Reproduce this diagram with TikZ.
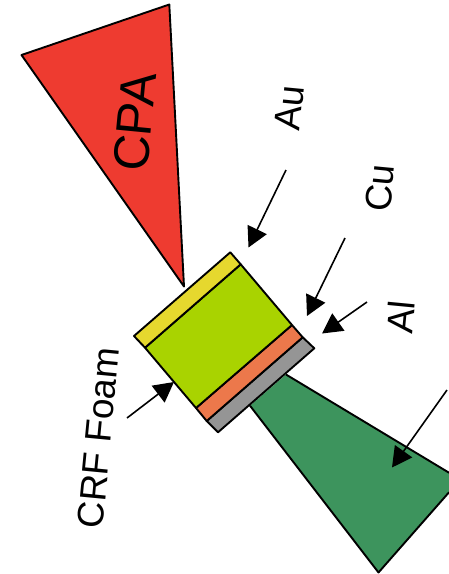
\documentclass[tikz,border=0pt]{standalone}
\usepackage{fontspec}
\setmainfont{Liberation Sans}
\usetikzlibrary{arrows.meta}
\definecolor{cpared}{HTML}{EE3B30}
\definecolor{beamgreen}{HTML}{3D945D}
\definecolor{auyellow}{HTML}{E6D82E}
\definecolor{foamgreen}{HTML}{A9D300}
\definecolor{cuorange}{HTML}{EC784B}
\definecolor{algray}{HTML}{959595}
\tikzset{
  px/.style={x=1pt,y=-1pt},
  region/.style={draw=black,line width=1.9pt,line join=round},
  callout/.style={draw=black,line width=1.6pt,-{Triangle[length=20pt,width=21pt]},shorten >=0pt},
  lbl/.style={inner sep=0pt,font=\fontsize{37}{37}\selectfont,rotate=84.5},
}
\begin{document}
\begin{tikzpicture}[px]
\useasboundingbox (0,0) rectangle (449,574);
\clip (0,0) rectangle (449,574);
% beams
\fill[beamgreen] (286,374.5) -- (449,472.7) -- (449,492.3) -- (378.5,572.5) -- (250,405.7) -- cycle;
\draw[region,fill=none] (250,405.7) -- (378.5,572.5) -- (449,492.3);
\draw[region,fill=none] (286,374.5) -- (449,472.7);
\draw[region,fill=cpared] (169.3,4.5) -- (21.5,55) -- (184,286.5) -- cycle;
% target layers
\draw[region,fill=algray] (206.7,421) -- (302.7,337.3) -- (314.3,348.3) -- (218,432.3) -- cycle;
\draw[region,fill=cuorange] (196,408) -- (292,325) -- (302.7,337.3) -- (206.7,421) -- cycle;
\draw[region,fill=foamgreen] (145,347.7) -- (240.7,264.3) -- (292,325) -- (196,408) -- cycle;
\draw[region,fill=auyellow] (230.3,252.3) -- (134,336) -- (145,347.7) -- (240.7,264.3) -- cycle;
% labels
\node[lbl,font=\fontsize{50}{50}\selectfont] (cpa) at (135,122) {CPA};
\node[lbl] (au) at (289.5,108) {Au};
\node[lbl] (cu) at (380,188) {Cu};
\node[lbl] (al) at (400.5,317) {Al};
\node[lbl] (crf) at (98.5,438) {CRF Foam};
% callouts
\coordinate (auS) at (286,170); \coordinate (auE) at (248.5,247.5);
\coordinate (cuS) at (345,238); \coordinate (cuE) at (307,316);
\coordinate (alS) at (367,302); \coordinate (alE) at (322,333.5);
\coordinate (crfS) at (127,418); \coordinate (crfE) at (174,382);
\coordinate (beamS) at (447,390); \coordinate (beamE) at (392,467.5);
\draw[callout] (auS) -- (auE);
\draw[callout] (cuS) -- (cuE);
\draw[callout] (alS) -- (alE);
\draw[callout] (crfS) -- (crfE);
\draw[callout] (beamS) -- (beamE);
\end{tikzpicture}
\end{document}
